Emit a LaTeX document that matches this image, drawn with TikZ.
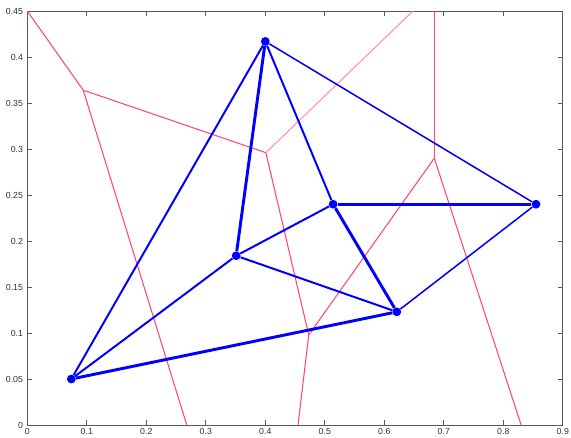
\documentclass[tikz,border=0pt]{standalone}
\usepackage{fontspec}
\setmainfont{Liberation Sans}
\definecolor{vorred}{RGB}{255,70,120}

\begin{document}
\begin{tikzpicture}[x=17.85cm, y=27.6cm,
  site/.style={circle, fill=blue, inner sep=0pt, minimum size=7.5pt},
  del/.style={draw=blue, line width=1.7pt},
  mst/.style={draw=blue, line width=2.5pt},
  hull/.style={draw=blue, line width=1.3pt},
  vor/.style={draw=vorred, line width=0.9pt},
  ticklab/.style={font=\fontsize{7.5}{8}\selectfont, text=black!80, inner sep=0pt}]

  \useasboundingbox (-0.0459,-0.01304) rectangle (0.9138,0.462);

  % Achsen
  \draw[black!65, line width=0.7pt] (0,0) rectangle (0.9,0.45);
  \foreach \x/\lab in {0/0, 0.1/0.1, 0.2/0.2, 0.3/0.3, 0.4/0.4, 0.5/0.5, 0.6/0.6, 0.7/0.7, 0.8/0.8, 0.9/0.9} {
    \draw[black!65, line width=0.6pt] (\x,0) -- ++(0,4pt) (\x,0.45) -- ++(0,-4pt);
    \node[ticklab, anchor=north, yshift=-2.5pt] at (\x,0) {\lab};
  }
  \foreach \y/\lab in {0/0, 0.05/0.05, 0.1/0.1, 0.15/0.15, 0.2/0.2, 0.25/0.25, 0.3/0.3, 0.35/0.35, 0.4/0.4, 0.45/0.45} {
    \draw[black!65, line width=0.6pt] (0,\y) -- ++(4pt,0) (0.9,\y) -- ++(-4pt,0);
    \node[ticklab, anchor=east, xshift=-3.5pt] at (0,\y) {\lab};
  }

  % Voronoi-Ecken
  \coordinate (V1) at (0.094,0.364);
  \coordinate (V2) at (0.401,0.296);
  \coordinate (V3) at (0.473,0.098);
  \coordinate (V4) at (0.684,0.290);
  \coordinate (R1) at (0,0.45);
  \coordinate (R2) at (0.268,0);
  \coordinate (R3) at (0.455,0);
  \coordinate (R4) at (0.648,0.45);
  \coordinate (R5) at (0.684,0.45);
  \coordinate (R6) at (0.830,0);

  \path (R1) edge[vor] (V1)
        (V1) edge[vor] (V2)
        (V1) edge[vor] (R2)
        (V2) edge[vor] (V3)
        (V3) edge[vor] (R3)
        (V2) edge[vor, draw=vorred!60] (R4)
        (V3) edge[vor] (V4)
        (V4) edge[vor, line width=1.1pt] (R5)
        (V4) edge[vor] (R6);

  % Punkte
  \node[site] (PA) at (0.400,0.417) {};
  \node[site] (PB) at (0.514,0.240) {};
  \node[site] (PC) at (0.855,0.240) {};
  \node[site] (PD) at (0.351,0.184) {};
  \node[site] (PE) at (0.621,0.123) {};
  \node[site] (PF) at (0.074,0.050) {};

  \path (PA) edge[mst] (PD)
        (PB) edge[mst] (PC)
        (PB) edge[mst] (PE)
        (PF) edge[mst] (PE)
        (PF) edge[del] (PA)
        (PF) edge[del] (PD)
        (PA) edge[del] (PB)
        (PD) edge[del] (PB)
        (PD) edge[del] (PE)
        (PA) edge[hull] (PC)
        (PE) edge[hull] (PC);
\end{tikzpicture}
\end{document}
